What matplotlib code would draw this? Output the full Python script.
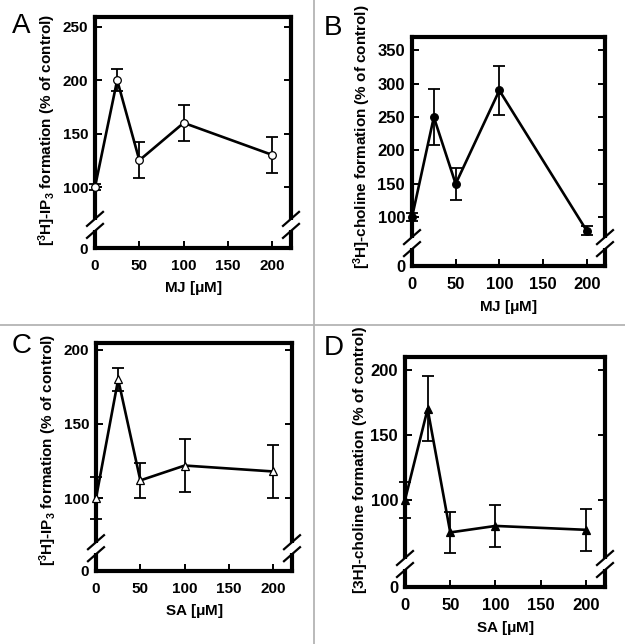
import matplotlib
matplotlib.use('Agg')
import matplotlib.pyplot as plt
from matplotlib.lines import Line2D
from matplotlib.patches import Rectangle
from matplotlib.transforms import IdentityTransform

plt.rcParams['font.family'] = 'Liberation Sans'
plt.rcParams['font.weight'] = 'bold'
plt.rcParams['axes.labelweight'] = 'bold'
plt.rcParams['mathtext.fontset'] = 'custom'
plt.rcParams['mathtext.bf'] = 'Liberation Sans:bold'
plt.rcParams['mathtext.rm'] = 'Liberation Sans:bold'
plt.rcParams['mathtext.default'] = 'bf'

# concentrations (uM)
conc = [0, 25, 50, 100, 200]

# % of control
ip3_mj = [100, 200, 125, 160, 130]
ip3_mj_err = [3, 10, 17, 17, 17]
cho_mj = [100, 250, 150, 290, 80]
cho_mj_err = [6, 42, 24, 37, 7]
ip3_sa = [100, 180, 112, 122, 118]
ip3_sa_err = [14, 8, 12, 18, 18]
cho_sa = [100, 170, 75, 80, 77]
cho_sa_err = [14, 25, 16, 16, 16]

x_ticks = [0, 50, 100, 150, 200]

W, H = 625, 644
fig = plt.figure(figsize=(W / 100, H / 100), dpi=100)


def px_axes(left, top, right, bottom):
    # axes box given in pixel coords of the figure (origin top-left)
    return fig.add_axes([left / W, 1 - bottom / H, (right - left) / W, (bottom - top) / H])


def draw_break(ax, frac=0.10):
    # white gap in both y spines plus the // marks
    bb = ax.get_position()
    y = (bb.y0 + frac * bb.height) * H
    for xf in (bb.x0, bb.x1):
        x = xf * W
        fig.add_artist(Rectangle((x - 5, y - 5), 10, 10, facecolor='white',
                                 edgecolor='none', transform=IdentityTransform(), zorder=10))
        for dy in (-6, 6):
            fig.add_artist(Line2D([x - 8, x + 8], [y + dy - 7, y + dy + 7], color='black',
                                  lw=1.6, transform=IdentityTransform(), zorder=11))


def panel(ax, y, err, marker, face, ylims, yticks, ylabel, xlabel, ylab_pos, fs=11):
    ax.errorbar(conc, y, yerr=err, color='black', lw=1.9, elinewidth=1.3, capsize=4.5,
                capthick=1.3, fmt='none', zorder=2, clip_on=False)
    ax.plot(conc, y, color='black', lw=1.9, zorder=3, clip_on=False)
    ax.plot(conc, y, linestyle='none', marker=marker, ms=5.5, mfc=face, mec='black',
            mew=0.9, zorder=4, clip_on=False)
    ax.set_xlim(0, 221)
    ax.set_ylim(ylims)
    ax.set_xticks(x_ticks)
    ax.set_xticklabels([str(v) for v in x_ticks], fontweight='bold', fontsize=fs)
    ax.set_yticks([ylims[0]] + yticks)
    ax.set_yticklabels(['0'] + [str(v) for v in yticks], fontweight='bold', fontsize=fs)
    for s in ax.spines.values():
        s.set_linewidth(3.0)
    ax.tick_params(direction='in', length=5, width=1.4, right=True, pad=5)
    ax.tick_params(axis='x', pad=8)
    ax.set_ylabel(ylabel, fontsize=11, fontweight='bold')
    ax.yaxis.set_label_coords(*ylab_pos)
    ax.set_xlabel(xlabel, fontsize=11, fontweight='bold', labelpad=4)
    draw_break(ax)


axA = px_axes(95, 17, 291, 248)
panel(axA, ip3_mj, ip3_mj_err, 'o', 'white', (43, 259), [100, 150, 200, 250],
      r'[$^{3}$H]-IP$_{3}$ formation (% of control)', r'MJ [$\mu$M]', (-0.19, 0.51))

axB = px_axes(412, 37, 605, 266)
panel(axB, cho_mj, cho_mj_err, 'o', 'black', (27, 370), [100, 150, 200, 250, 300, 350],
      r'[$^{3}$H]-choline formation (% of control)', r'MJ [$\mu$M]', (-0.20, 0.565),
      fs=12)

axC = px_axes(96, 343, 292, 571)
panel(axC, ip3_sa, ip3_sa_err, '^', 'white', (51, 204.5), [100, 150, 200],
      r'[$^{3}$H]-IP$_{3}$ formation (% of control)', r'SA [$\mu$M]', (-0.19, 0.53))

axD = px_axes(405, 357, 605, 587)
panel(axD, cho_sa, cho_sa_err, '^', 'black', (33, 210), [100, 150, 200],
      '[3H]-choline formation (% of control)', r'SA [$\mu$M]', (-0.19, 0.555), fs=12)

# panel letters
for lbl, xp, yp in [('A', 12, 33), ('B', 324, 35), ('C', 12, 353), ('D', 324, 355)]:
    fig.text(xp / W, 1 - yp / H, lbl, fontsize=20, fontweight='normal', va='baseline')

# grey divider lines
fig.add_artist(Line2D([313.5 / W, 313.5 / W], [0, 1], color='#b4b4b4', lw=1.3))
fig.add_artist(Line2D([0, 1], [1 - 324.5 / H, 1 - 324.5 / H], color='#b4b4b4', lw=1.3))

fig.savefig('out.png', dpi=100)
